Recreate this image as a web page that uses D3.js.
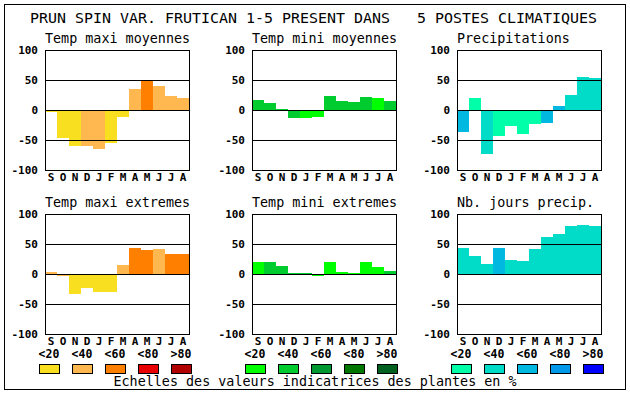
<!DOCTYPE html>
<html>
<head>
<meta charset="utf-8">
<script src="https://cdn.jsdelivr.net/npm/d3@7"></script>
<style>
  body { margin: 0; background: #fff; }
  svg { display: block; }
  text { font-family: "DejaVu Sans Mono", "Liberation Mono", monospace; white-space: pre; }
</style>
</head>
<body>
<div id="chart"></div>
<script>
// Indicator values (percent, -100..100) per month, Sept -> Aug
const MONTHS = ['S', 'O', 'N', 'D', 'J', 'F', 'M', 'A', 'M', 'J', 'J', 'A'];

const tmaxMoy = [-4, -47, -60, -60, -65, -55, -12, 35, 49, 40, 24, 20];
const tmaxMoyCls = [0, 0, 0, 1, 1, 0, 0, 1, 2, 1, 1, 1];
const tminMoy = [17, 11, 2, -14, -14, -11, 24, 15, 14, 22, 20, 15];
const tminMoyCls = [1, 1, 1, 1, 0, 0, 1, 1, 1, 1, 0, 1];
const precip = [-37, 20, -74, -44, -26, -40, -24, -22, 7, 25, 55, 54];
const precipCls = [2, 0, 1, 0, 0, 0, 0, 2, 2, 1, 1, 1];

const tmaxExt = [4, -4, -34, -24, -30, -30, 15, 44, 40, 42, 34, 34];
const tmaxExtCls = [1, 1, 0, 0, 0, 0, 1, 2, 2, 1, 2, 2];
const tminExt = [20, 20, 14, 2, 2, -4, 20, 4, 2, 20, 12, 5];
const tminExtCls = [0, 1, 1, 1, 1, 0, 0, 0, 0, 0, 0, 1];
const jours = [44, 30, 17, 44, 24, 22, 42, 62, 67, 80, 82, 80];
const joursCls = [1, 1, 1, 2, 1, 1, 1, 1, 1, 1, 1, 1];

const Y_TICKS = [100, 50, 0, -50, -100];
const GRID_LINES = [50, 0, -50];
const CLASS_LABELS = ['<20', '<40', '<60', '<80', '>80'];

const WARM = ['#f8e020', '#ffb850', '#ff8000', '#e80000', '#b00000'];
const GREEN = ['#00ff00', '#00cc30', '#009830', '#007800', '#006020'];
const BLUE = ['#00ffa8', '#00dcc8', '#00b8e0', '#0098e8', '#0000ff'];

const TITLE = 'PRUN SPIN VAR. FRUTICAN 1-5 PRESENT DANS   5 POSTES CLIMATIQUES';
const FOOTER = 'Echelles des valeurs indicatrices des plantes en %';

const W = 630, H = 394;
const PLOT_W = 144, PLOT_H = 120;
const COL_X = [45, 252, 457];
const ROW_Y = [50, 214];

const panels = [
  { title: 'Temp maxi moyennes', values: tmaxMoy, cls: tmaxMoyCls, palette: WARM, col: 0, row: 0 },
  { title: 'Temp mini moyennes', values: tminMoy, cls: tminMoyCls, palette: GREEN, col: 1, row: 0 },
  { title: 'Precipitations', values: precip, cls: precipCls, palette: BLUE, col: 2, row: 0 },
  { title: 'Temp maxi extremes', values: tmaxExt, cls: tmaxExtCls, palette: WARM, col: 0, row: 1 },
  { title: 'Temp mini extremes', values: tminExt, cls: tminExtCls, palette: GREEN, col: 1, row: 1 },
  { title: 'Nb. jours precip.', values: jours, cls: joursCls, palette: BLUE, col: 2, row: 1 }
];

const svg = d3.select('#chart').append('svg')
  .attr('width', W)
  .attr('height', H);

svg.append('rect')
  .attr('x', 4.5).attr('y', 4.5)
  .attr('width', 621).attr('height', 385)
  .attr('fill', '#fff')
  .attr('stroke', '#000')
  .attr('stroke-width', 1)
  .attr('shape-rendering', 'crispEdges');

svg.append('text')
  .attr('x', 30)
  .attr('y', 23)
  .attr('font-size', '14px')
  .attr('font-weight', '500')
  .attr('textLength', 567)
  .attr('lengthAdjust', 'spacingAndGlyphs')
  .attr('xml:space', 'preserve')
  .attr('fill', '#000')
  .text(TITLE);

for (const p of panels) {
  const left = COL_X[p.col];
  const top = ROW_Y[p.row];
  const x = d3.scaleBand().domain(d3.range(MONTHS.length)).range([left, left + PLOT_W]);
  const y = d3.scaleLinear().domain([-100, 100]).range([top + PLOT_H, top]);

  const g = svg.append('g');

  g.append('text')
    .attr('x', left)
    .attr('y', top - 7)
    .attr('font-size', '13.4px')
    .attr('fill', '#000')
    .text(p.title);

  g.selectAll('.bar')
    .data(p.values)
    .join('rect')
    .attr('class', 'bar')
    .attr('x', (_, i) => x(i))
    .attr('width', x.bandwidth())
    .attr('y', (d) => y(Math.max(0, d)))
    .attr('height', (d) => Math.abs(y(d) - y(0)))
    .attr('fill', (_, i) => p.palette[p.cls[i]])
    .attr('shape-rendering', 'crispEdges');

  g.selectAll('.grid')
    .data(GRID_LINES)
    .join('line')
    .attr('x1', left).attr('x2', left + PLOT_W)
    .attr('y1', (d) => Math.round(y(d)) + 0.5)
    .attr('y2', (d) => Math.round(y(d)) + 0.5)
    .attr('stroke', '#000')
    .attr('shape-rendering', 'crispEdges');

  g.append('rect')
    .attr('x', left + 0.5).attr('y', top + 0.5)
    .attr('width', PLOT_W).attr('height', PLOT_H)
    .attr('fill', 'none')
    .attr('stroke', '#000')
    .attr('shape-rendering', 'crispEdges');

  g.selectAll('.ytick')
    .data(Y_TICKS)
    .join('text')
    .attr('x', left - 7)
    .attr('y', (d) => y(d))
    .attr('dy', '0.35em')
    .attr('text-anchor', 'end')
    .attr('font-size', '11px')
    .attr('font-weight', 'bold')
    .attr('fill', '#000')
    .text((d) => d);

  g.selectAll('.xtick')
    .data(MONTHS)
    .join('text')
    .attr('x', (_, i) => x(i) + x.bandwidth() / 2)
    .attr('y', top + PLOT_H + 7)
    .attr('dy', '0.35em')
    .attr('text-anchor', 'middle')
    .attr('font-size', '11px')
    .attr('font-weight', 'bold')
    .attr('fill', '#000')
    .text((d) => d);
}

// class legends, one per palette column
const legends = [
  { palette: WARM, range: [49, 181] },
  { palette: GREEN, range: [255, 387] },
  { palette: BLUE, range: [461, 593] }
];

for (const lg of legends) {
  const lx = d3.scalePoint().domain(CLASS_LABELS).range(lg.range);
  const g = svg.append('g');

  g.selectAll('text')
    .data(CLASS_LABELS)
    .join('text')
    .attr('x', (d) => lx(d))
    .attr('y', 354)
    .attr('dy', '0.35em')
    .attr('text-anchor', 'middle')
    .attr('font-size', '11.5px')
    .attr('font-weight', 'bold')
    .attr('fill', '#000')
    .text((d) => d);

  g.selectAll('rect')
    .data(CLASS_LABELS)
    .join('rect')
    .attr('x', (d) => Math.round(lx(d) - 10) + 0.5)
    .attr('y', 364.5)
    .attr('width', 20)
    .attr('height', 9)
    .attr('fill', (_, i) => lg.palette[i])
    .attr('stroke', '#000')
    .attr('shape-rendering', 'crispEdges');
}

svg.append('text')
  .attr('x', 315)
  .attr('y', 386)
  .attr('text-anchor', 'middle')
  .attr('font-size', '13.4px')
  .attr('fill', '#000')
  .text(FOOTER);
</script>
</body>
</html>
